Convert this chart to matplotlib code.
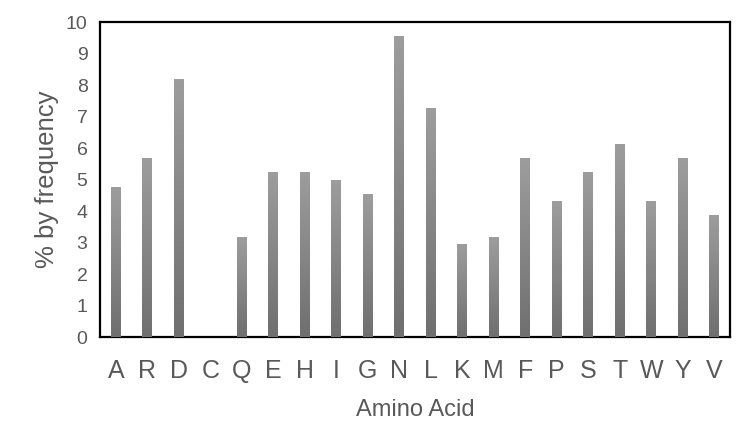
import numpy as np
import matplotlib
matplotlib.use("Agg")
import matplotlib.pyplot as plt
from matplotlib.colors import LinearSegmentedColormap

categories = ["A", "R", "D", "C", "Q", "E", "H", "I", "G", "N",
              "L", "K", "M", "F", "P", "S", "T", "W", "Y", "V"]
values = [4.75, 5.68, 8.18, 0.0, 3.16, 5.23, 5.23, 4.98, 4.53, 9.56,
          7.26, 2.95, 3.16, 5.67, 4.31, 5.23, 6.13, 4.31, 5.67, 3.87]
yticks = list(range(0, 11))

plt.rcParams['font.family'] = ['Liberation Sans', 'DejaVu Sans']

fig = plt.figure(figsize=(7.42, 4.21), dpi=100)
ax = fig.add_axes([0.1348, 0.1995, 0.8490, 0.7482])

x = np.arange(len(categories))
bars = ax.bar(x, values, width=0.31, color="#888888", zorder=2)

cmap = LinearSegmentedColormap.from_list("g", ["#6f6f6f", "#9d9d9d"])
grad = np.linspace(0, 1, 256).reshape(-1, 1)
for b in bars:
    h = b.get_height()
    if h <= 0:
        continue
    x0 = b.get_x()
    w = b.get_width()
    im = ax.imshow(grad, cmap=cmap, aspect="auto", origin="lower",
                   extent=(x0, x0 + w, 0, h), zorder=3)
    im.set_clip_path(b)

ax.set_xlim(-0.5, len(categories) - 0.5)
ax.set_ylim(0, 10)
ax.set_xticks(x)
ax.set_xticklabels(categories)
ax.set_yticks(yticks)
ax.tick_params(axis="both", length=0, colors="#595959")
ax.tick_params(axis="x", labelsize=18, pad=16)
ax.tick_params(axis="y", labelsize=14, pad=9)
for s in ax.spines.values():
    s.set_linewidth(1.6)
    s.set_color("black")

ax.set_xlabel("Amino Acid", fontsize=17, color="#595959", labelpad=11)
ax.set_ylabel("% by frequency", fontsize=18.5, color="#595959", labelpad=5)

fig.savefig("out.png", dpi=100)
